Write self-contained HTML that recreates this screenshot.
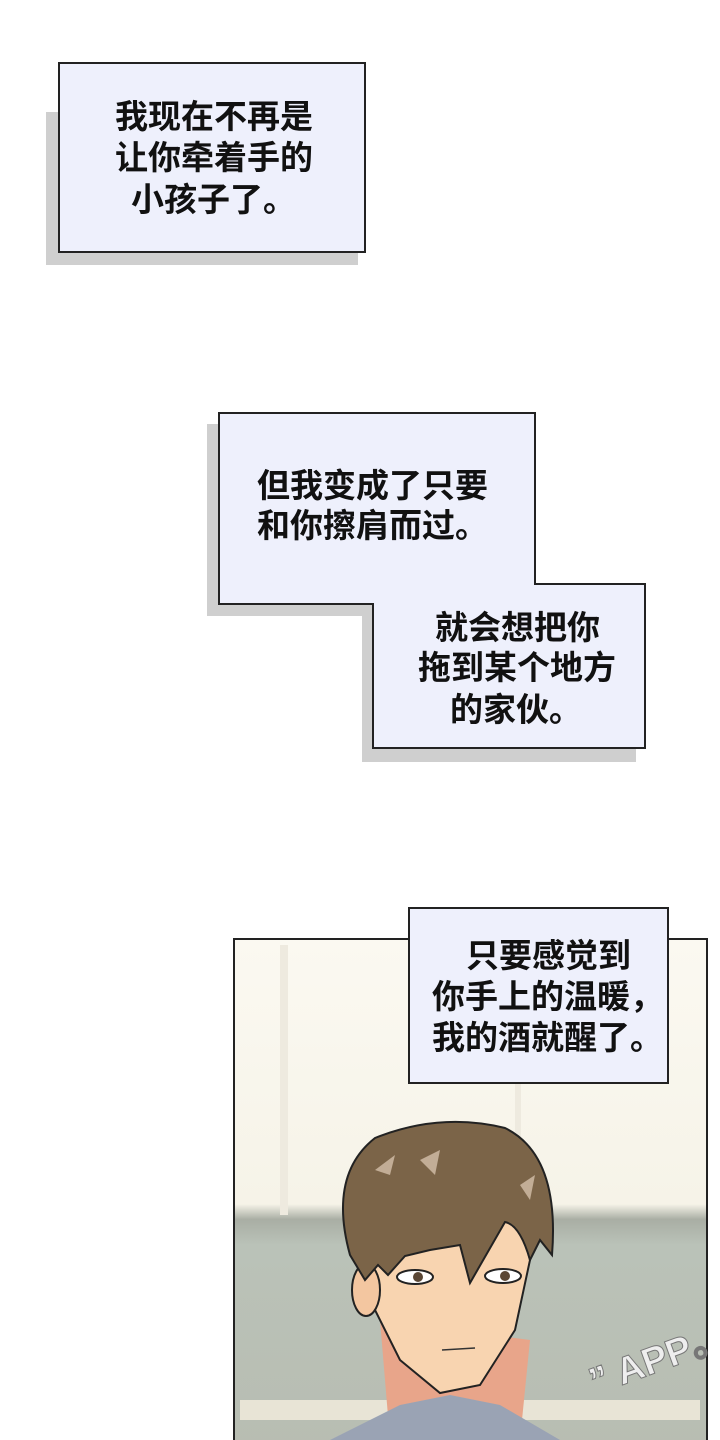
<!DOCTYPE html>
<html><head><meta charset="utf-8"><style>
body{margin:0;width:720px;height:1440px;background:#fff;overflow:hidden;position:relative;font-family:"Liberation Sans","Noto Sans CJK SC",sans-serif;}
.t{position:absolute;font-size:33px;color:#111;white-space:nowrap;line-height:40px;font-weight:bold;}
</style></head><body>
<svg width="720" height="1440" style="position:absolute;left:0;top:0">
<rect x="46" y="112" width="312" height="153" fill="#cfcfcf"/>
<rect x="59" y="63" width="306" height="189" fill="#eef0fc" stroke="#222" stroke-width="2"/>
<polygon points="207,424 524,424 524,596 636,596 636,762 362,762 362,616 207,616" fill="#cfcfcf"/>
<polygon points="219,413 535,413 535,584 645,584 645,748 373,748 373,604 219,604" fill="#eef0fc" stroke="#222" stroke-width="2"/>
<defs><linearGradient id="bg" x1="0" y1="0" x2="0" y2="1">
<stop offset="0" stop-color="#fbf9f1"/><stop offset="0.52" stop-color="#f6f3e8"/><stop offset="0.55" stop-color="#a9aea4"/><stop offset="0.6" stop-color="#bac2b8"/><stop offset="1" stop-color="#b8bdb2"/></linearGradient></defs>
<rect x="234" y="939" width="473" height="510" fill="url(#bg)" stroke="#222" stroke-width="2"/>
<rect x="280" y="945" width="8" height="270" fill="#eeeadf"/>
<rect x="515" y="945" width="6" height="270" fill="#eeeadf"/>
<rect x="240" y="1400" width="460" height="20" fill="#e8e4d6"/>
<path d="M380,1320 L390,1440 L520,1440 L530,1340 Z" fill="#e8a58a"/>
<path d="M330,1440 L400,1405 L450,1395 L500,1405 L560,1440 Z" fill="#9aa3b4"/>
<path d="M362,1240 L370,1300 L400,1360 L440,1393 L480,1385 L515,1330 L530,1260 L520,1220 L380,1220 Z" fill="#f8d4b0" stroke="#222" stroke-width="2"/>
<ellipse cx="366" cy="1290" rx="14" ry="26" fill="#f3c6a0" stroke="#222" stroke-width="2"/>
<path d="M350,1255 Q328,1175 375,1138 Q440,1112 505,1128 Q560,1155 552,1255 L540,1240 L530,1260 Q520,1225 505,1222 L470,1283 L460,1245 L430,1250 L405,1256 L388,1275 L378,1265 L365,1280 Z" fill="#7b6448" stroke="#222" stroke-width="2"/>
<path d="M375,1170 L395,1155 L390,1175 Z M520,1185 L535,1175 L530,1200 Z M420,1160 L440,1150 L435,1175 Z" fill="#c2ad96"/>
<ellipse cx="415" cy="1277" rx="18" ry="7" fill="#fff" stroke="#222" stroke-width="2"/>
<circle cx="418" cy="1277" r="5" fill="#5a4634"/>
<ellipse cx="503" cy="1276" rx="18" ry="7" fill="#fff" stroke="#222" stroke-width="2"/>
<circle cx="505" cy="1276" r="5" fill="#5a4634"/>
<path d="M442,1350 L475,1348" stroke="#333" stroke-width="1.5"/>
<rect x="409" y="908" width="259" height="175" fill="#eef0fc" stroke="#222" stroke-width="2"/>
<text x="595" y="1395" font-size="38" font-weight="bold" fill="#eee" stroke="#777" stroke-width="1" font-family="Liberation Sans" transform="rotate(-20 595 1395)">” APP。</text>
</svg>
<div class="t" style="left:115px;top:97px">我现在不再是</div>
<div class="t" style="left:115px;top:138px">让你牵着手的</div>
<div class="t" style="left:131px;top:180px">小孩子了。</div>
<div class="t" style="left:257px;top:466px">但我变成了只要</div>
<div class="t" style="left:257px;top:506px">和你擦肩而过。</div>
<div class="t" style="left:435px;top:608px">就会想把你</div>
<div class="t" style="left:418px;top:648px">拖到某个地方</div>
<div class="t" style="left:450px;top:690px">的家伙。</div>
<div class="t" style="left:466px;top:936px">只要感觉到</div>
<div class="t" style="left:432px;top:977px">你手上的温暖，</div>
<div class="t" style="left:432px;top:1018px">我的酒就醒了。</div>
</body></html>
